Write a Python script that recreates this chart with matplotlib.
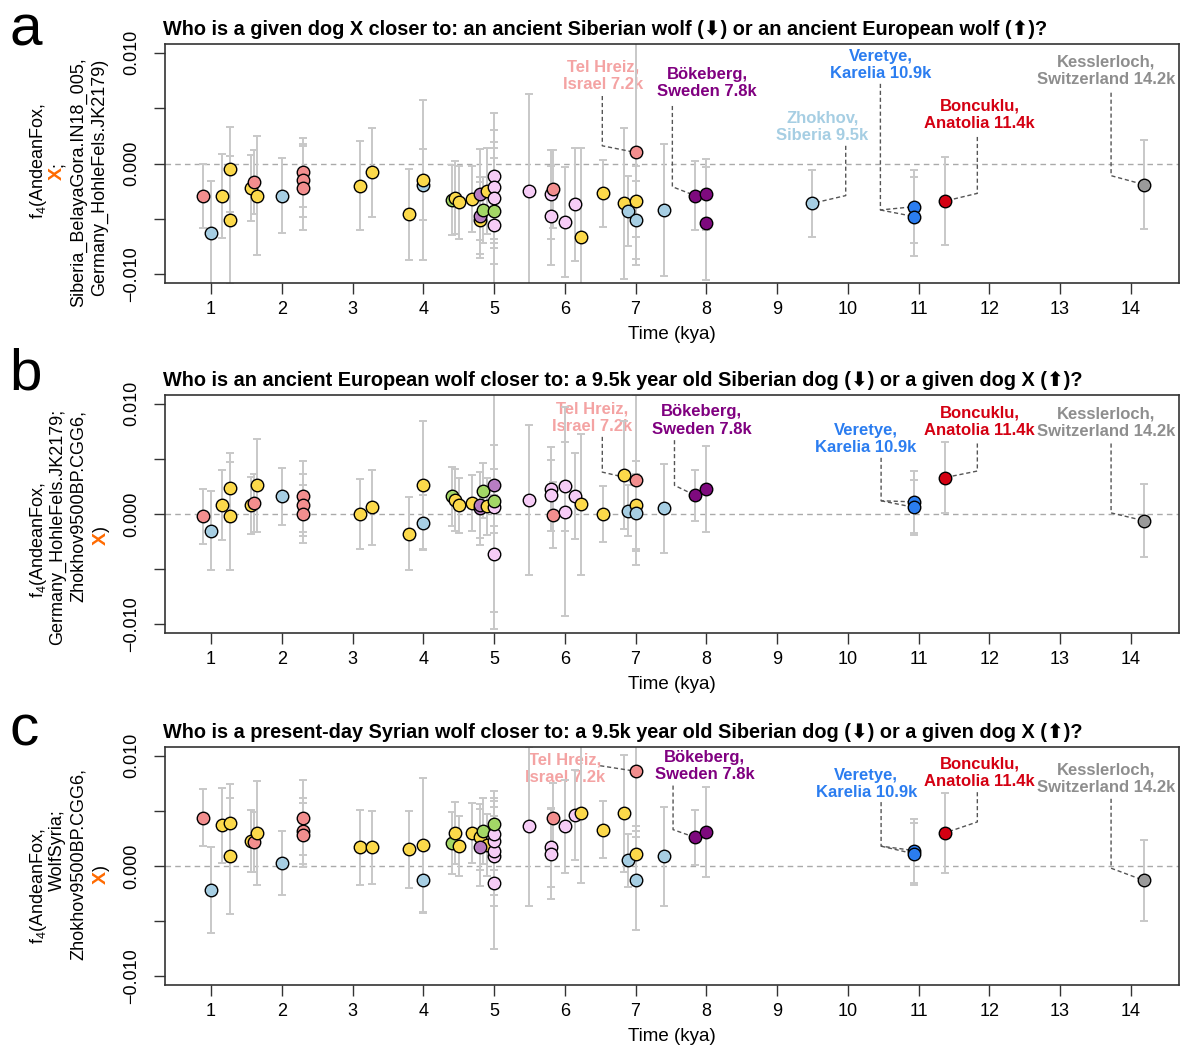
import matplotlib
matplotlib.use('Agg')
import matplotlib.pyplot as plt

plt.rcParams['font.family'] = ['Liberation Sans', 'DejaVu Sans']
plt.rcParams['mathtext.fontset'] = 'custom'
plt.rcParams['mathtext.rm'] = 'Liberation Sans'
plt.rcParams['mathtext.it'] = 'Liberation Sans:italic'

# ---------------- data ----------------
x_ticks = list(range(1, 15))

# panel a: f4(AndeanFox, X; Siberia_BelayaGora.IN18_005, Germany_HohleFels.JK2179)
a_time = [0.88, 1.00, 1.155, 1.27, 1.27, 1.56, 1.61, 1.65, 2.01, 2.30, 2.30, 2.30,
          3.10, 3.28, 3.80, 4.00, 4.00, 4.40, 4.45, 4.51, 4.69, 4.80, 4.80, 4.80,
          4.90, 4.85, 5.00, 5.00, 5.00, 5.00, 5.00, 5.50, 5.80, 5.80, 5.83, 6.00,
          6.14, 6.23, 6.54, 6.83, 6.90, 7.00, 7.00, 7.00, 7.40, 7.84, 8.00, 8.00,
          9.50, 10.94, 10.94, 11.37, 14.18]
a_value = [-0.0029, -0.0063, -0.0029, -0.00054, -0.0051, -0.0022, -0.0017, -0.0029,
           -0.0029, -0.0008, -0.0015, -0.0022, -0.0020, -0.0008, -0.0046, -0.0019,
           -0.0015, -0.0033, -0.0031, -0.0035, -0.0032, -0.0051, -0.0047, -0.0028,
           -0.0025, -0.0042, -0.0011, -0.0021, -0.0031, -0.0043, -0.0056, -0.0025,
           -0.0028, -0.0047, -0.0023, -0.0053, -0.0037, -0.0066, -0.0027, -0.0036,
           -0.0043, -0.0034, -0.0051, 0.0010, -0.0042, -0.0029, -0.0028, -0.0054,
           -0.0036, -0.0039, -0.0048, -0.0034, -0.0019]
a_err = [0.0029, 0.0047, 0.0038, 0.0038, 0.0058, 0.0030, 0.0029, 0.0054, 0.0034,
         0.0031, 0.0033, 0.0038, 0.0040, 0.0040, 0.0041, 0.0032, 0.0072, 0.0032,
         0.0033, 0.0033, 0.0030, 0.0034, 0.0035, 0.0041, 0.0039, 0.0030, 0.0057,
         0.0051, 0.0045, 0.0048, 0.0075, 0.0088, 0.0040, 0.0045, 0.0035, 0.0050,
         0.0051, 0.0080, 0.0030, 0.0068, 0.0032, 0.0032, 0.0035, 0.0102, 0.0060,
         0.0031, 0.0032, 0.0051, 0.0030, 0.0033, 0.0036, 0.0040, 0.0040]
a_group = ['S', 'L', 'Y', 'Y', 'Y', 'Y', 'S', 'Y', 'L', 'S', 'S', 'S',
           'Y', 'Y', 'Y', 'L', 'Y', 'G', 'Y', 'Y', 'Y', 'Y', 'M', 'M',
           'Y', 'G', 'P', 'P', 'P', 'G', 'P', 'P', 'P', 'P', 'S', 'P',
           'P', 'Y', 'Y', 'Y', 'L', 'Y', 'L', 'S', 'L', 'D', 'D', 'D',
           'L', 'B', 'B', 'R', 'K']

# panel b: f4(AndeanFox, Germany_HohleFels.JK2179; Zhokhov9500BP.CGG6, X)
b_time = [0.88, 1.00, 1.155, 1.27, 1.27, 1.56, 1.61, 1.65, 2.01, 2.30, 2.30, 2.30,
          3.10, 3.28, 3.80, 4.00, 4.00, 4.40, 4.45, 4.51, 4.69, 4.80, 4.80, 4.90,
          4.85, 5.00, 5.00, 5.00, 5.00, 5.50, 5.80, 5.80, 5.83, 6.00, 6.00, 6.14,
          6.23, 6.54, 6.83, 6.90, 7.00, 7.00, 7.00, 7.40, 7.84, 8.00,
          10.94, 10.94, 11.37, 14.18]
b_value = [-0.0002, -0.0015, 0.0008, 0.0024, -0.0002, 0.0008, 0.0010, 0.0026,
           0.0016, 0.0016, 0.0008, 0.0000, 0.0000, 0.0006, -0.0018, -0.0008,
           0.0026, 0.0016, 0.0013, 0.0008, 0.0010, 0.0005, 0.0008, 0.0007,
           0.0021, 0.0006, 0.0026, 0.0012, -0.0036, 0.0013, 0.0023, 0.0017,
           -0.0001, 0.0025, 0.0002, 0.0016, 0.0009, 0.0000, 0.0035, 0.0003,
           0.0008, 0.0001, 0.0031, 0.0005, 0.0017, 0.0023,
           0.0011, 0.0006, 0.0033, -0.0006]
b_err = [0.0025, 0.0036, 0.0032, 0.0031, 0.0049, 0.0026, 0.0026, 0.0042, 0.0026,
         0.0032, 0.0028, 0.0026, 0.0032, 0.0034, 0.0033, 0.0025, 0.0058, 0.0027,
         0.0028, 0.0025, 0.0025, 0.0033, 0.0030, 0.0026, 0.0025, 0.0110, 0.0037,
         0.0029, 0.0053, 0.0068, 0.0038, 0.0032, 0.0030, 0.0040, 0.0095, 0.0039,
         0.0064, 0.0025, 0.0049, 0.0023, 0.0040, 0.0035, 0.0077, 0.0040, 0.0023,
         0.0039, 0.0028, 0.0025, 0.0032, 0.0033]
b_group = ['S', 'L', 'Y', 'Y', 'Y', 'Y', 'S', 'Y', 'L', 'S', 'S', 'S',
           'Y', 'Y', 'Y', 'L', 'Y', 'G', 'Y', 'Y', 'Y', 'M', 'M', 'Y',
           'G', 'P', 'M', 'G', 'P', 'P', 'P', 'P', 'S', 'P', 'P', 'P',
           'Y', 'Y', 'Y', 'L', 'Y', 'L', 'S', 'L', 'D', 'D',
           'B', 'B', 'R', 'K']

# panel c: f4(AndeanFox, WolfSyria; Zhokhov9500BP.CGG6, X)
c_time = [0.88, 1.00, 1.155, 1.27, 1.27, 1.56, 1.61, 1.65, 2.01, 2.30, 2.30, 2.30,
          3.10, 3.28, 3.80, 4.00, 4.00, 4.40, 4.45, 4.51, 4.69, 4.80, 4.90, 4.80,
          4.85, 5.00, 5.00, 5.00, 5.00, 5.00, 5.00, 5.50, 5.83, 5.80, 5.80, 6.00,
          6.14, 6.23, 6.54, 6.83, 6.90, 7.00, 7.00, 7.00, 7.40, 7.84, 8.00,
          10.94, 10.94, 11.37, 14.18]
c_value = [0.0044, -0.0022, 0.0037, 0.0039, 0.0009, 0.0023, 0.0022, 0.0030,
           0.0003, 0.0044, 0.0032, 0.0028, 0.0017, 0.0017, 0.0015, 0.0019,
           -0.0013, 0.0021, 0.0030, 0.0018, 0.0030, 0.0026, 0.0019, 0.0017,
           0.0032, 0.0009, 0.0014, 0.0023, 0.0029, 0.0038, -0.0015, 0.0036,
           0.0044, 0.0017, 0.0011, 0.0036, 0.0046, 0.0048, 0.0033, 0.0048,
           0.0005, 0.0086, 0.0011, -0.0013, 0.0009, 0.0026, 0.0031,
           0.0014, 0.0011, 0.0030, -0.0013]
c_err = [0.0026, 0.0039, 0.0034, 0.0035, 0.0053, 0.0028, 0.0027, 0.0047, 0.0029,
         0.0034, 0.0030, 0.0029, 0.0034, 0.0033, 0.0035, 0.0061, 0.0030, 0.0028,
         0.0028, 0.0027, 0.0027, 0.0030, 0.0028, 0.0035, 0.0030, 0.0045, 0.0040,
         0.0036, 0.0033, 0.0030, 0.0060, 0.0072, 0.0031, 0.0036, 0.0041, 0.0042,
         0.0041, 0.0063, 0.0026, 0.0053, 0.0024, 0.0060, 0.0025, 0.0045, 0.0045,
         0.0025, 0.0041, 0.0029, 0.0028, 0.0036, 0.0037]
c_group = ['S', 'L', 'Y', 'Y', 'Y', 'Y', 'S', 'Y', 'L', 'S', 'S', 'S',
           'Y', 'Y', 'Y', 'Y', 'L', 'G', 'Y', 'Y', 'Y', 'Y', 'Y', 'M',
           'G', 'P', 'P', 'P', 'P', 'G', 'P', 'P', 'S', 'P', 'P', 'P',
           'P', 'Y', 'Y', 'Y', 'L', 'S', 'Y', 'L', 'L', 'D', 'D',
           'B', 'B', 'R', 'K']

titles = [
    'Who is a given dog X closer to: an ancient Siberian wolf (\u2b07) or an ancient European wolf (\u2b06)?',
    'Who is an ancient European wolf closer to: a 9.5k year old Siberian dog (\u2b07) or a given dog X (\u2b06)?',
    'Who is a present-day Syrian wolf closer to: a 9.5k year old Siberian dog (\u2b07) or a given dog X (\u2b06)?',
]

# ---------------- styles ----------------
fill = {'S': '#F28E8E', 'Y': '#FCD94A', 'L': '#A6CEE3', 'G': '#A3D766',
        'M': '#B87DC2', 'P': '#F6CCF6', 'D': '#7E0A7E', 'B': '#2B7DF0',
        'R': '#D40012', 'K': '#9A9A9A'}
lab_col = {'tel': '#F4A3A3', 'bok': '#800080', 'zho': '#A6CEE3',
           'ver': '#2B7DF0', 'bon': '#D40012', 'kes': '#8E8E8E'}
lab_txt = {'tel': 'Tel Hreiz,\nIsrael 7.2k', 'bok': 'B\u00f6keberg,\nSweden 7.8k',
           'zho': 'Zhokhov,\nSiberia 9.5k', 'ver': 'Veretye,\nKarelia 10.9k',
           'bon': 'Boncuklu,\nAnatolia 11.4k', 'kes': 'Kesslerloch,\nSwitzerland 14.2k'}

# annotation layout (label centre, connector path) per panel
ann = [
    {'tel': ((6.54, 0.00795), [[(6.53, 0.0061), (6.53, 0.0016), (7.0, 0.0010)]]),
     'bok': ((8.01, 0.0073), [[(7.52, 0.0052), (7.52, -0.0021), (7.84, -0.0029)]]),
     'zho': ((9.64, 0.00335), [[(9.97, 0.0016), (9.97, -0.0029), (9.5, -0.0036)]]),
     'ver': ((10.47, 0.0089), [[(10.46, 0.0072), (10.46, -0.0042), (10.94, -0.0039)],
                                [(10.46, -0.0042), (10.94, -0.0048)]]),
     'bon': ((11.86, 0.0044), [[(11.83, 0.0024), (11.83, -0.0027), (11.37, -0.0034)]]),
     'kes': ((13.65, 0.00835), [[(13.72, 0.0064), (13.72, -0.0011), (14.18, -0.0019)]])},
    {'tel': ((6.39, 0.0087), [[(6.53, 0.0070), (6.53, 0.0038), (7.0, 0.0031)]]),
     'bok': ((7.93, 0.0085), [[(7.55, 0.0067), (7.55, 0.0026), (7.84, 0.0017)]]),
     'ver': ((10.25, 0.0068), [[(10.47, 0.0051), (10.47, 0.0012), (10.94, 0.0011)],
                                [(10.47, 0.0012), (10.94, 0.0006)]]),
     'bon': ((11.86, 0.0084), [[(11.83, 0.0064), (11.83, 0.0039), (11.37, 0.0033)]]),
     'kes': ((13.65, 0.00825), [[(13.72, 0.0064), (13.72, 0.0001), (14.18, -0.0006)]])},
    {'tel': ((6.0, 0.0088), [[(6.50, 0.0091), (7.0, 0.0086)]]),
     'bok': ((7.98, 0.00905), [[(7.53, 0.0073), (7.53, 0.0033), (7.84, 0.0026)]]),
     'ver': ((10.26, 0.00745), [[(10.47, 0.0058), (10.47, 0.0018), (10.94, 0.0014)],
                                 [(10.47, 0.0018), (10.94, 0.0011)]]),
     'bon': ((11.86, 0.0085), [[(11.83, 0.0067), (11.83, 0.0040), (11.37, 0.0030)]]),
     'kes': ((13.65, 0.00795), [[(13.72, 0.0061), (13.72, -0.0002), (14.18, -0.0013)]])},
]

W, H = 1180, 1048
fig = plt.figure(figsize=(W / 100, H / 100), dpi=100)


def fx(x):
    return x / W


def fy(y):
    return 1 - y / H


boxes = [(44, 283), (395, 633), (747, 985)]
panels = [(a_time, a_value, a_err, a_group),
          (b_time, b_value, b_err, b_group),
          (c_time, c_value, c_err, c_group)]

for i, ((top, bot), (tt, vv, ee, gg)) in enumerate(zip(boxes, panels)):
    ax = fig.add_axes([fx(165), fy(bot), (1179 - 165) / W, (bot - top) / H])
    ax.set_xlim(0.35, 14.68)
    ax.set_ylim(-0.0108, 0.0108)
    ax.set_xticks(x_ticks)
    ax.set_xticklabels([str(t) for t in x_ticks])
    ax.set_yticks([-0.01, -0.005, 0, 0.005, 0.01])
    ax.set_yticklabels(['\u22120.010', '', '0.000', '', '0.010'],
                       rotation=90, va='center')
    ax.tick_params(axis='both', direction='out', length=8, width=1,
                   color='#333333', labelsize=13)
    ax.tick_params(axis='y', pad=10)
    ax.tick_params(axis='x', pad=5)
    for s in ax.spines.values():
        s.set_color('#333333')
        s.set_linewidth(1.2)
    ax.set_xlabel('Time (kya)', fontsize=13.5, labelpad=6)
    ax.axhline(0, color='#AAAAAA', lw=1, ls=(0, (4, 3)), zorder=1)

    for key, (pos, paths) in ann[i].items():
        ax.text(pos[0], pos[1], lab_txt[key], ha='center', va='center',
                fontsize=12, fontweight='bold', color=lab_col[key],
                linespacing=1.2, zorder=1.5)
        for p in paths:
            ax.plot([q[0] for q in p], [q[1] for q in p], color='#555555',
                    lw=1, ls=(0, (3, 2)), zorder=3)

    ax.errorbar(tt, vv, yerr=ee, fmt='none', ecolor='#C8C8C8', elinewidth=1.4,
                capsize=3.2, capthick=1.4, zorder=2)
    for t, v, g in zip(tt, vv, gg):
        ax.plot([t], [v], 'o', ms=9, mfc=fill[g], mec='black', mew=1.0,
                zorder=4)

    fig.text(fx(163), fy(top - 15), titles[i], fontsize=14.3, fontweight='bold',
             ha='left', va='center')

# panel letters
for letter, base in zip('abc', [45, 390, 745]):
    fig.text(fx(9), fy(base), letter, fontsize=42, ha='left', va='baseline')

ORANGE = '#FF6A00'


def ylab(x, y, s):
    fig.text(fx(x), fy(y), s, rotation=90, rotation_mode='anchor', ha='center',
             va='baseline', fontsize=13)


def xpair(x, y, tail):
    fig.text(fx(x), fy(y), 'X', rotation=90, rotation_mode='anchor', ha='right',
             va='baseline', fontsize=14, fontweight='bold', color=ORANGE)
    fig.text(fx(x), fy(y), tail, rotation=90, rotation_mode='anchor', ha='left',
             va='baseline', fontsize=13)


F4 = 'f$_{\\mathregular{4}}$(AndeanFox,'
# panel a
ylab(43, 161, F4)
xpair(62, 167, ';')
ylab(83, 182, 'Siberia_BelayaGora.IN18_005,')
ylab(104, 177, 'Germany_HohleFels.JK2179)')
# panel b
ylab(43, 540, F4)
ylab(62, 527, 'Germany_HohleFels.JK2179;')
ylab(83, 506, 'Zhokhov9500BP.CGG6,')
xpair(106, 532, ')')
# panel c
ylab(43, 886, F4)
ylab(62, 850, 'WolfSyria;')
ylab(83, 864, 'Zhokhov9500BP.CGG6,')
xpair(106, 871, ')')

fig.savefig('out.png', dpi=100)
